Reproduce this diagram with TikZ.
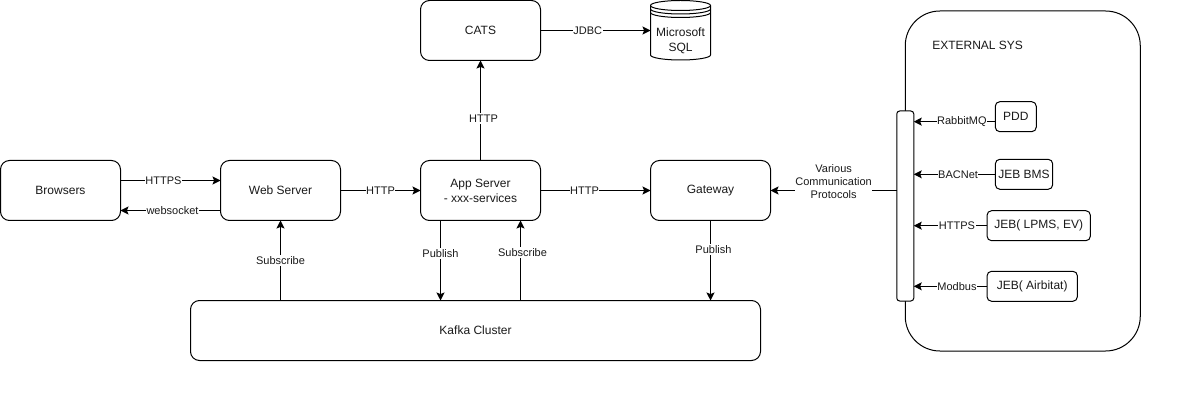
\documentclass[tikz,border=0pt]{standalone}
\usepackage{fontspec}
\setmainfont{Liberation Sans}
\usetikzlibrary{arrows.meta}
\definecolor{ink}{HTML}{1A1A1A}
\tikzset{
  box/.style={draw=black,fill=white,line width=.75pt,rounded corners=6.75pt,minimum width=90pt,minimum height=45pt,inner sep=0pt,outer sep=0pt,align=center,text=ink,font=\fontsize{9}{11.25}\selectfont},
  smallbox/.style={box,rounded corners=3.4pt,minimum height=22.5pt},
  conn/.style={draw=black,line width=.75pt,-{Stealth[length=6pt,width=6pt,inset=1.2pt]}},
  lbl/.style={fill=white,inner xsep=.4pt,inner ysep=1pt,text=ink,font=\fontsize{8.25}{9.9}\selectfont,align=center},
  dbline/.style={line width=.75pt},
}
\begin{document}
\begin{tikzpicture}[x=.75pt,y=-.75pt]
\useasboundingbox (0,0) rectangle (1201,402);
% external system
\node[box,rounded corners=26pt,minimum width=176.25pt,minimum height=255pt] (ext) at (1022.75,181) {};
\node[anchor=west,text=ink,font=\fontsize{9}{11.25}\selectfont,inner sep=0pt] (extl) at (932,45) {EXTERNAL SYS};
\node[box,rounded corners=2.2pt,minimum width=12.75pt,minimum height=142.5pt] (bar) at (905.25,206) {};
% main boxes
\node[box] (browsers) at (60.5,190.5) {Browsers};
\node[box] (web) at (280.5,190.5) {Web Server};
\node[box] (app) at (480.5,190.5) {App Server\\- xxx-services};
\node[box] (gw) at (710.5,190.5) {Gateway};
\node[box] (cats) at (480.5,30.5) {CATS};
\node[box,minimum width=427.5pt] (kafka) at (475.5,330.5) {Kafka Cluster};
% database
\draw[dbline,fill=white] (650.5,5.5) arc[start angle=180,end angle=0,x radius=22.5pt,y radius=3.75pt]
  -- (710.5,55) arc[start angle=0,end angle=-180,x radius=22.5pt,y radius=3.75pt] -- cycle;
\draw[dbline] (650.5,5.5) arc[start angle=180,end angle=360,x radius=22.5pt,y radius=3.75pt];
\draw[dbline] (650.5,9) arc[start angle=180,end angle=360,x radius=22.5pt,y radius=3.75pt];
\draw[dbline] (650.5,12.5) arc[start angle=180,end angle=360,x radius=22.5pt,y radius=3.75pt];
\node[inner sep=0pt,outer sep=0pt,minimum width=45pt,align=center,text=ink,font=\fontsize{9}{11.25}\selectfont] (db) at (680.5,41) {Microsoft\\SQL};
% small boxes
\node[smallbox,minimum width=30.75pt] (pdd) at (1015.75,116.7) {PDD};
\node[smallbox,minimum width=43pt] (bms) at (1024,174.3) {JEB BMS};
\node[smallbox,minimum width=77.5pt] (lpms) at (1038.7,225.7) {JEB( LPMS, EV)};
\node[smallbox,minimum width=67.75pt] (air) at (1032.2,286.3) {JEB( Airbitat)};
% connectors
\draw[conn] ([yshift=7.5pt]browsers.east) -- node[lbl,pos=.43] {HTTPS} ([yshift=7.5pt]web.west);
\draw[conn] ([yshift=-15pt]web.west) -- node[lbl,pos=.48] {websocket} ([yshift=-15pt]browsers.east);
\draw[conn] (web.east) -- node[lbl,pos=.5] {HTTP} (app.west);
\draw[conn] (app.east) -- node[lbl,pos=.4] {HTTP} (gw.west);
\draw[conn] (app.north) -- node[lbl,pos=.42,xshift=2.25pt] {HTTP} (cats.south);
\draw[conn] (cats.east) -- node[lbl,pos=.43] {JDBC} (cats.east -| db.west);
\draw[conn] (web.south |- kafka.north) -- node[lbl,pos=.5] {Subscribe} (web.south);
\draw[conn] ([xshift=-30pt]app.south) -- node[lbl,pos=.41] {Publish} ([xshift=-30pt]app.south |- kafka.north);
\draw[conn] ([xshift=30pt]app.south |- kafka.north) -- node[lbl,pos=.6,xshift=1.5pt] {Subscribe} ([xshift=30pt]app.south);
\draw[conn] (gw.south) -- node[lbl,pos=.36,xshift=2.25pt] {Publish} (gw.south |- kafka.north);
\draw[conn] (bar.west |- gw.east) -- node[lbl,pos=.5,yshift=6.75pt] {Various\\Communication\\Protocols} (gw.east);
\draw[conn] ([yshift=-3.7pt]pdd.west) -- node[lbl,pos=.41] {RabbitMQ} ([yshift=-3.7pt]pdd.west -| bar.east);
\draw[conn] (bms.west) -- node[lbl,pos=.457] {BACNet} (bms.west -| bar.east);
\draw[conn] (lpms.west) -- node[lbl,pos=.41] {HTTPS} (lpms.west -| bar.east);
\draw[conn] (air.west) -- node[lbl,pos=.41] {Modbus} (air.west -| bar.east);
\end{tikzpicture}
\end{document}
